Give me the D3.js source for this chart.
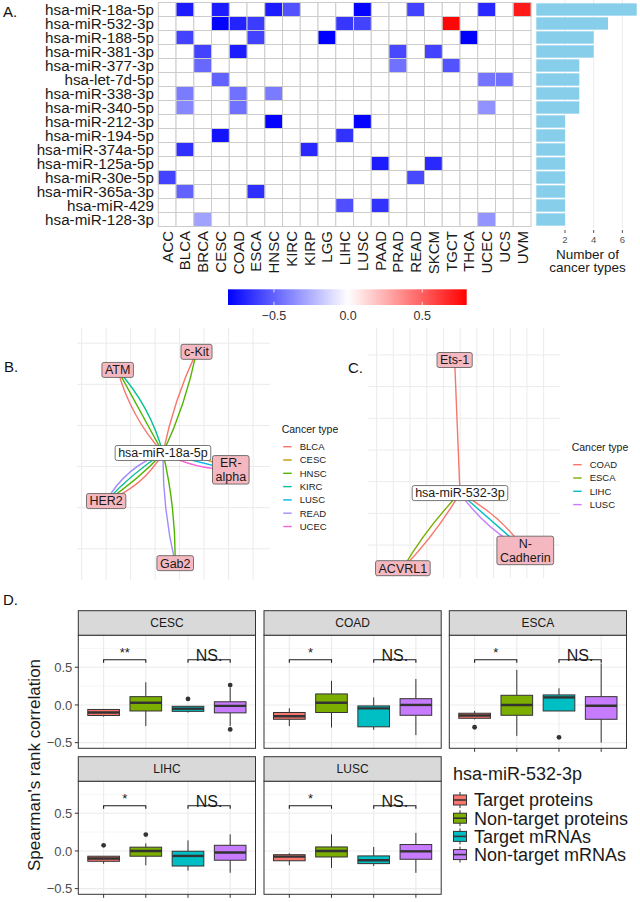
<!DOCTYPE html>
<html><head><meta charset="utf-8">
<script src="https://cdn.jsdelivr.net/npm/d3@7"></script>
<style>body{margin:0;background:#fff}svg{display:block;font-family:"Liberation Sans",Arial,sans-serif}</style>
</head><body><svg id="c" width="640" height="902"></svg>
<script>
// ---------------- DATA ----------------
const mirnas = ["hsa-miR-18a-5p","hsa-miR-532-3p","hsa-miR-188-5p","hsa-miR-381-3p","hsa-miR-377-3p","hsa-let-7d-5p","hsa-miR-338-3p","hsa-miR-340-5p","hsa-miR-212-3p","hsa-miR-194-5p","hsa-miR-374a-5p","hsa-miR-125a-5p","hsa-miR-30e-5p","hsa-miR-365a-3p","hsa-miR-429","hsa-miR-128-3p"];
const cancers = ["ACC","BLCA","BRCA","CESC","COAD","ESCA","HNSC","KIRC","KIRP","LGG","LIHC","LUSC","PAAD","PRAD","READ","SKCM","TGCT","THCA","UCEC","UCS","UVM"];
const heatCells = [
 ["hsa-miR-18a-5p","BLCA",-0.72],["hsa-miR-18a-5p","CESC",-0.72],["hsa-miR-18a-5p","HNSC",-0.72],["hsa-miR-18a-5p","KIRC",-0.55],["hsa-miR-18a-5p","LUSC",-0.8],["hsa-miR-18a-5p","READ",-0.6],["hsa-miR-18a-5p","UCEC",-0.68],["hsa-miR-18a-5p","UVM",0.72],
 ["hsa-miR-532-3p","CESC",-0.8],["hsa-miR-532-3p","COAD",-0.7],["hsa-miR-532-3p","ESCA",-0.62],["hsa-miR-532-3p","LIHC",-0.64],["hsa-miR-532-3p","LUSC",-0.6],["hsa-miR-532-3p","TGCT",0.78],
 ["hsa-miR-188-5p","BLCA",-0.6],["hsa-miR-188-5p","ESCA",-0.6],["hsa-miR-188-5p","LGG",-0.81],["hsa-miR-188-5p","THCA",-0.81],
 ["hsa-miR-381-3p","BRCA",-0.6],["hsa-miR-381-3p","COAD",-0.72],["hsa-miR-381-3p","PRAD",-0.58],["hsa-miR-381-3p","SKCM",-0.6],
 ["hsa-miR-377-3p","BRCA",-0.48],["hsa-miR-377-3p","PRAD",-0.45],["hsa-miR-377-3p","TGCT",-0.55],
 ["hsa-let-7d-5p","CESC",-0.5],["hsa-let-7d-5p","UCEC",-0.44],["hsa-let-7d-5p","UCS",-0.45],
 ["hsa-miR-338-3p","BLCA",-0.42],["hsa-miR-338-3p","COAD",-0.45],["hsa-miR-338-3p","HNSC",-0.42],
 ["hsa-miR-340-5p","BLCA",-0.38],["hsa-miR-340-5p","COAD",-0.45],["hsa-miR-340-5p","UCEC",-0.35],
 ["hsa-miR-212-3p","HNSC",-0.8],["hsa-miR-212-3p","LUSC",-0.8],
 ["hsa-miR-194-5p","CESC",-0.75],["hsa-miR-194-5p","LIHC",-0.65],
 ["hsa-miR-374a-5p","BLCA",-0.66],["hsa-miR-374a-5p","KIRP",-0.68],
 ["hsa-miR-125a-5p","PAAD",-0.72],["hsa-miR-125a-5p","SKCM",-0.68],
 ["hsa-miR-30e-5p","ACC",-0.6],["hsa-miR-30e-5p","READ",-0.58],
 ["hsa-miR-365a-3p","BLCA",-0.5],["hsa-miR-365a-3p","ESCA",-0.66],
 ["hsa-miR-429","LIHC",-0.56],["hsa-miR-429","PAAD",-0.65],
 ["hsa-miR-128-3p","BRCA",-0.3],["hsa-miR-128-3p","UCEC",-0.34]
];
const cancerCounts = [7,5,4,4,3,3,3,3,2,2,2,2,2,2,2,2];
const countTicks = [2,4,6];
const colorTicks = [-0.5,0,0.5];
const colorLimits = [-0.81,0,0.8];

// Panel B network (layout units)
const netBNodes = [
 {id:"hsa-miR-18a-5p",lines:["hsa-miR-18a-5p"],u:3.32,v:2.33,hub:true},
 {id:"c-Kit",lines:["c-Kit"],u:4.69,v:4.79},
 {id:"ATM",lines:["ATM"],u:1.47,v:4.35},
 {id:"ER-alpha",lines:["ER-","alpha"],u:6.09,v:1.92},
 {id:"HER2",lines:["HER2"],u:1.0,v:1.16},
 {id:"Gab2",lines:["Gab2"],u:3.82,v:-0.35}
];
const netBTypes = ["BLCA","CESC","HNSC","KIRC","LUSC","READ","UCEC"];
const netBColors = ["#F8766D","#C49A00","#53B400","#00C094","#00B6EB","#A58AFF","#FB61D7"];
const netBEdges = [
 ["c-Kit","BLCA"],["c-Kit","HNSC"],
 ["ATM","BLCA"],["ATM","HNSC"],["ATM","KIRC"],
 ["ER-alpha","CESC"],["ER-alpha","LUSC"],["ER-alpha","UCEC"],
 ["HER2","BLCA"],["HER2","HNSC"],["HER2","KIRC"],["HER2","READ"],
 ["Gab2","HNSC"],["Gab2","READ"]
];
// Panel C network
const netCNodes = [
 {id:"hsa-miR-532-3p",lines:["hsa-miR-532-3p"],u:4.99,v:1.64,hub:true},
 {id:"Ets-1",lines:["Ets-1"],u:4.67,v:5.84},
 {id:"ACVRL1",lines:["ACVRL1"],u:1.57,v:-0.73},
 {id:"N-Cadherin",lines:["N-","Cadherin"],u:8.9,v:-0.17}
];
const netCTypes = ["COAD","ESCA","LIHC","LUSC"];
const netCColors = ["#F8766D","#7CAE00","#00BFC4","#C77CFF"];
const netCEdges = [
 ["Ets-1","COAD"],
 ["ACVRL1","COAD"],["ACVRL1","ESCA"],
 ["N-Cadherin","COAD"],["N-Cadherin","LIHC"],["N-Cadherin","LUSC"]
];

// Panel D boxplots
const groups = ["Target proteins","Non-target proteins","Target mRNAs","Non-target mRNAs"];
const groupColors = ["#F8766D","#7CAE00","#00BFC4","#C77CFF"];
const facetNames = ["CESC","COAD","ESCA","LIHC","LUSC"];
const facetSig = ["**","*","*","*","*"];
const facetNS = ["NS.","NS.","NS.","NS.","NS."];
const boxCESC = [
 {lo:-0.155,q1:-0.14,med:-0.10,q3:-0.06,hi:-0.057,out:[]},
 {lo:-0.28,q1:-0.08,med:0.03,q3:0.11,hi:0.30,out:[]},
 {lo:-0.10,q1:-0.085,med:-0.05,q3:-0.018,hi:-0.015,out:[0.08]},
 {lo:-0.28,q1:-0.105,med:-0.012,q3:0.042,hi:0.23,out:[0.263,-0.325]}
];
const boxCOAD = [
 {lo:-0.28,q1:-0.19,med:-0.15,q3:-0.10,hi:-0.045,out:[]},
 {lo:-0.30,q1:-0.10,med:0.03,q3:0.146,hi:0.32,out:[]},
 {lo:-0.33,q1:-0.29,med:-0.045,q3:-0.013,hi:0.10,out:[]},
 {lo:-0.40,q1:-0.137,med:0.0,q3:0.083,hi:0.345,out:[]}
];
const boxESCA = [
 {lo:-0.19,q1:-0.177,med:-0.14,q3:-0.11,hi:-0.08,out:[-0.296]},
 {lo:-0.41,q1:-0.137,med:0.0,q3:0.128,hi:0.464,out:[]},
 {lo:-0.08,q1:-0.08,med:0.10,q3:0.133,hi:0.22,out:[-0.43]},
 {lo:-0.50,q1:-0.19,med:-0.01,q3:0.11,hi:0.55,out:[]}
];
const boxLIHC = [
 {lo:-0.17,q1:-0.137,med:-0.10,q3:-0.07,hi:-0.07,out:[0.075]},
 {lo:-0.19,q1:-0.07,med:0.0,q3:0.05,hi:0.10,out:[0.217]},
 {lo:-0.26,q1:-0.20,med:-0.066,q3:-0.004,hi:0.14,out:[]},
 {lo:-0.29,q1:-0.123,med:-0.02,q3:0.075,hi:0.22,out:[]}
];
const boxLUSC = [
 {lo:-0.19,q1:-0.13,med:-0.075,q3:-0.05,hi:-0.03,out:[]},
 {lo:-0.225,q1:-0.08,med:0.0,q3:0.053,hi:0.22,out:[]},
 {lo:-0.2,q1:-0.168,med:-0.123,q3:-0.066,hi:0.053,out:[]},
 {lo:-0.29,q1:-0.11,med:-0.005,q3:0.085,hi:0.24,out:[]}
];
const facetBoxes = [boxCESC,boxCOAD,boxESCA,boxLIHC,boxLUSC];
const yTicksD = [-0.5,0,0.5];
const yMinorD = [-0.25,0.25,0.75];
const sigLevel = 0.6;

// ---------------- DRAW ----------------
const svg = d3.select("#c");

// panel letters
[["A.",3,17],["B.",4,372],["C.",348,373],["D.",3,605]].forEach(([t,x,y])=>
  svg.append("text").attr("x",x).attr("y",y).attr("font-size",15).attr("fill","#111").text(t));

// ===== A: heatmap =====
const hx = d3.scaleBand().domain(cancers).range([158.3,531]);
const hy = d3.scaleBand().domain(mirnas).range([2.5,226.5]);
const fill = d3.scaleLinear().domain(colorLimits).range(["#0000ff","#ffffff","#ff0000"]).interpolate(d3.interpolateRgb);
const gA = svg.append("g");
gA.selectAll("rect.bg").data(d3.cross(mirnas,cancers)).join("rect")
  .attr("x",d=>hx(d[1])).attr("y",d=>hy(d[0])).attr("width",hx.bandwidth()).attr("height",hy.bandwidth())
  .attr("fill","#fff").attr("stroke","#cccccc").attr("stroke-width",1);
gA.selectAll("rect.cell").data(heatCells).join("rect")
  .attr("x",d=>hx(d[1])).attr("y",d=>hy(d[0])).attr("width",hx.bandwidth()).attr("height",hy.bandwidth())
  .attr("fill",d=>fill(d[2])).attr("stroke","#cccccc").attr("stroke-width",1);
gA.selectAll("text.row").data(mirnas).join("text")
  .attr("x",154).attr("y",d=>hy(d)+hy.bandwidth()/2).attr("dy","0.36em")
  .attr("text-anchor","end").attr("font-size",15.2).attr("fill","#1a1a1a").text(d=>d);
gA.selectAll("text.col").data(cancers).join("text")
  .attr("transform",d=>`translate(${hx(d)+hx.bandwidth()/2},231) rotate(-90)`).attr("dy","0.36em")
  .attr("text-anchor","end").attr("font-size",15).attr("fill","#1a1a1a").text(d=>d);

// bar panel
const bxs = d3.scaleLinear().domain([0,7.23]).range([536.3,640]);
const byb = d3.scaleBand().domain(mirnas).range([2.5,226.5]).paddingInner(0.12).paddingOuter(0.06);
gA.selectAll("line.bgrid").data(countTicks).join("line")
  .attr("x1",d=>bxs(d)).attr("x2",d=>bxs(d)).attr("y1",0).attr("y2",228).attr("stroke","#ebebeb").attr("stroke-width",1);
gA.selectAll("rect.bar").data(mirnas).join("rect")
  .attr("x",bxs(0)).attr("y",d=>byb(d)).attr("height",byb.bandwidth())
  .attr("width",(d,i)=>bxs(cancerCounts[i])-bxs(0)).attr("fill","#87CEEB");
gA.selectAll("line.btick").data(countTicks).join("line")
  .attr("x1",d=>bxs(d)).attr("x2",d=>bxs(d)).attr("y1",230).attr("y2",233).attr("stroke","#555");
gA.selectAll("text.btick").data(countTicks).join("text")
  .attr("x",d=>bxs(d)).attr("y",243).attr("text-anchor","middle").attr("font-size",9.5).attr("fill","#555").text(d=>d);
gA.append("text").attr("x",587.5).attr("y",258.5).attr("text-anchor","middle").attr("font-size",13.5).attr("fill","#1a1a1a").text("Number of");
gA.append("text").attr("x",587.5).attr("y",272).attr("text-anchor","middle").attr("font-size",13.5).attr("fill","#1a1a1a").text("cancer types");

// colorbar
const cbx = d3.scaleLinear().domain([colorLimits[0],colorLimits[2]]).range([228,466.7]);
const defs = svg.append("defs");
const grad = defs.append("linearGradient").attr("id","cbar");
d3.range(0,1.0001,0.05).forEach(t=>{
  const v = colorLimits[0]+t*(colorLimits[2]-colorLimits[0]);
  grad.append("stop").attr("offset",t).attr("stop-color",fill(v));
});
svg.append("rect").attr("x",cbx.range()[0]).attr("y",289.3).attr("width",cbx.range()[1]-cbx.range()[0]).attr("height",15.7).attr("fill","url(#cbar)");
colorTicks.forEach(t=>{
  svg.append("line").attr("x1",cbx(t)).attr("x2",cbx(t)).attr("y1",289.3).attr("y2",292.5).attr("stroke","#fff").attr("stroke-width",0.8);
  svg.append("line").attr("x1",cbx(t)).attr("x2",cbx(t)).attr("y1",301.8).attr("y2",305).attr("stroke","#fff").attr("stroke-width",0.8);
  svg.append("text").attr("x",cbx(t)).attr("y",320).attr("text-anchor","middle").attr("font-size",12.5).attr("fill","#333").text(d3.format(".1f")(t));
});

// ===== Networks =====
function drawNet(nodes,edges,types,colors,xs,ys,gridU,gridV,legendX,legendY){
  const g = svg.append("g");
  const [x0,x1] = xs.range(), [y0,y1] = ys.range();
  g.selectAll("line.vu").data(gridU).join("line").attr("x1",d=>xs(d)).attr("x2",d=>xs(d)).attr("y1",y1).attr("y2",y0).attr("stroke","#ebebeb");
  g.selectAll("line.hv").data(gridV).join("line").attr("y1",d=>ys(d)).attr("y2",d=>ys(d)).attr("x1",x0).attr("x2",x1).attr("stroke","#ebebeb");
  const byId = new Map(nodes.map(n=>[n.id,n]));
  const hub = nodes.find(n=>n.hub);
  const col = d3.scaleOrdinal().domain(types).range(colors);
  const grouped = d3.group(edges,e=>e[0]);
  grouped.forEach((list,tid)=>{
    const t = byId.get(tid);
    const p0=[xs(hub.u),ys(hub.v)], p1=[xs(t.u),ys(t.v)];
    const dx=p1[0]-p0[0], dy=p1[1]-p0[1], len=Math.hypot(dx,dy);
    const px=-dy/len, py=dx/len;
    const n=list.length;
    list.forEach((e,i)=>{
      const k=(i-(n-1)/2)*0.12*len;
      const cx=(p0[0]+p1[0])/2+px*k, cy=(p0[1]+p1[1])/2+py*k;
      g.append("path").attr("d",`M${p0[0]},${p0[1]}Q${cx},${cy} ${p1[0]},${p1[1]}`)
        .attr("fill","none").attr("stroke",col(e[1])).attr("stroke-width",1.4);
    });
  });
  nodes.forEach(nd=>{
    const cx=xs(nd.u), cy=ys(nd.v);
    const lg=g.append("g");
    const lh=13.5, fs=12.5;
    const texts = nd.lines.map((l,i)=>lg.append("text").attr("x",cx).attr("y",cy+(i-(nd.lines.length-1)/2)*lh).attr("dy","0.35em")
       .attr("text-anchor","middle").attr("font-size",fs).attr("fill","#1a1a1a").text(l));
    const w = d3.max(texts,t=>t.node().getComputedTextLength());
    const h = nd.lines.length*lh+1.5;
    lg.insert("rect","text").attr("x",cx-w/2-3).attr("y",cy-h/2).attr("width",w+6).attr("height",h)
      .attr("rx",2).attr("fill",nd.hub?"#ffffff":"#f5b8c0").attr("stroke","#555").attr("stroke-width",0.8);
  });
  const lgd = svg.append("g");
  lgd.append("text").attr("x",legendX).attr("y",legendY).attr("dy","0.35em").attr("font-size",10.5).attr("fill","#1a1a1a").text("Cancer type");
  types.forEach((t,i)=>{
    const yy=legendY+17.4+i*13.3;
    lgd.append("line").attr("x1",legendX+1.5).attr("x2",legendX+10).attr("y1",yy).attr("y2",yy).attr("stroke",colors[i]).attr("stroke-width",1.4);
    lgd.append("text").attr("x",legendX+18).attr("y",yy).attr("dy","0.35em").attr("font-size",9.5).attr("fill","#1a1a1a").text(t);
  });
}
drawNet(netBNodes,netBEdges,netBTypes,netBColors,
  d3.scaleLinear().domain([-0.19,7.69]).range([77,270]),
  d3.scaleLinear().domain([-0.76,5.37]).range([580,328]),
  d3.range(0,8),d3.range(0,6),281.7,429.3);
drawNet(netCNodes,netCEdges,netCTypes,netCColors,
  d3.scaleLinear().domain([-0.5,10.98]).range([368.3,560]),
  d3.scaleLinear().domain([-1.04,6.85]).range([578,328]),
  d3.range(0,11),d3.range(0,7),571.7,447.3);

// ===== D: facetted boxplots =====
const colX=[78.3,264,449.3], panelW=177.2, stripTop=[610.7,756.7], stripH=24.5, panelH=113.1;
const gD = svg.append("g");
facetNames.forEach((fname,fi)=>{
  const c=fi%3, r=Math.floor(fi/3);
  const x0=colX[c], top=stripTop[r]+stripH, bot=top+panelH;
  const xs=d3.scalePoint().domain(groups).range([x0,x0+panelW]).padding(0.6);
  const ys=d3.scaleLinear().domain([-0.575,0.925]).range([bot,top]);
  const g=gD.append("g");
  g.append("rect").attr("x",x0).attr("y",top).attr("width",panelW).attr("height",panelH).attr("fill","#fff");
  yMinorD.forEach(v=>g.append("line").attr("x1",x0).attr("x2",x0+panelW).attr("y1",ys(v)).attr("y2",ys(v)).attr("stroke","#f2f2f2").attr("stroke-width",0.7));
  yTicksD.forEach(v=>g.append("line").attr("x1",x0).attr("x2",x0+panelW).attr("y1",ys(v)).attr("y2",ys(v)).attr("stroke","#ebebeb").attr("stroke-width",1.1));
  groups.forEach(gr=>g.append("line").attr("x1",xs(gr)).attr("x2",xs(gr)).attr("y1",top).attr("y2",bot).attr("stroke","#ebebeb").attr("stroke-width",1.1));
  const bw=xs.step()*0.75;
  facetBoxes[fi].forEach((b,i)=>{
    const cx=xs(groups[i]);
    g.append("line").attr("x1",cx).attr("x2",cx).attr("y1",ys(b.hi)).attr("y2",ys(b.q3)).attr("stroke","#333").attr("stroke-width",1);
    g.append("line").attr("x1",cx).attr("x2",cx).attr("y1",ys(b.q1)).attr("y2",ys(b.lo)).attr("stroke","#333").attr("stroke-width",1);
    g.append("rect").attr("x",cx-bw/2).attr("y",ys(b.q3)).attr("width",bw).attr("height",Math.max(ys(b.q1)-ys(b.q3),1))
      .attr("fill",groupColors[i]).attr("stroke","#333").attr("stroke-width",1);
    g.append("line").attr("x1",cx-bw/2).attr("x2",cx+bw/2).attr("y1",ys(b.med)).attr("y2",ys(b.med)).attr("stroke","#333").attr("stroke-width",2.4);
    b.out.forEach(o=>g.append("circle").attr("cx",cx).attr("cy",ys(o)).attr("r",2.4).attr("fill","#333"));
  });
  [[0,1,facetSig[fi],13,-3],[2,3,facetNS[fi],16,1]].forEach(([a,bb,lab,fs,dy])=>{
    const xa=xs(groups[a]), xb=xs(groups[bb]), yy=ys(sigLevel);
    g.append("path").attr("d",`M${xa},${yy+3}V${yy}H${xb}V${yy+3}`).attr("fill","none").attr("stroke","#1a1a1a").attr("stroke-width",1.1);
    g.append("text").attr("x",(xa+xb)/2).attr("y",yy+dy).attr("text-anchor","middle").attr("font-size",fs).attr("fill","#1a1a1a").text(lab);
  });
  g.append("rect").attr("x",x0).attr("y",top).attr("width",panelW).attr("height",panelH).attr("fill","none").attr("stroke","#333").attr("stroke-width",1);
  g.append("rect").attr("x",x0).attr("y",stripTop[r]).attr("width",panelW).attr("height",stripH).attr("fill","#d9d9d9").attr("stroke","#333").attr("stroke-width",1);
  g.append("text").attr("x",x0+panelW/2).attr("y",stripTop[r]+stripH/2).attr("dy","0.36em").attr("text-anchor","middle").attr("font-size",12).attr("fill","#1a1a1a").text(fname);
  if(c===0){
    yTicksD.forEach(v=>{
      g.append("line").attr("x1",x0-3.5).attr("x2",x0).attr("y1",ys(v)).attr("y2",ys(v)).attr("stroke","#333");
      g.append("text").attr("x",x0-6).attr("y",ys(v)).attr("dy","0.36em").attr("text-anchor","end").attr("font-size",13).attr("fill","#4d4d4d").text(d3.format(".1f")(v));
    });
  }
  if(r===1 || c===2){
    groups.forEach(gr=>g.append("line").attr("x1",xs(gr)).attr("x2",xs(gr)).attr("y1",bot).attr("y2",bot+3.5).attr("stroke","#333"));
  }
});
svg.append("text").attr("transform","translate(40,765) rotate(-90)").attr("text-anchor","middle").attr("font-size",17).attr("fill","#1a1a1a").text("Spearman's rank correlation");

// legend D
const lD = svg.append("g");
lD.append("text").attr("x",453).attr("y",773.5).attr("dy","0.35em").attr("font-size",18).attr("fill","#1a1a1a").text("hsa-miR-532-3p");
groups.forEach((gr,i)=>{
  const yy=800+i*18.2;
  lD.append("line").attr("x1",460).attr("x2",460).attr("y1",yy-8).attr("y2",yy+8).attr("stroke","#333");
  lD.append("rect").attr("x",453.5).attr("y",yy-5).attr("width",13).attr("height",10).attr("fill",groupColors[i]).attr("stroke","#333");
  lD.append("line").attr("x1",453.5).attr("x2",466.5).attr("y1",yy).attr("y2",yy).attr("stroke","#333").attr("stroke-width",1.6);
  lD.append("text").attr("x",474).attr("y",yy).attr("dy","0.36em").attr("font-size",18).attr("fill","#1a1a1a").text(gr);
});
</script></body></html>
